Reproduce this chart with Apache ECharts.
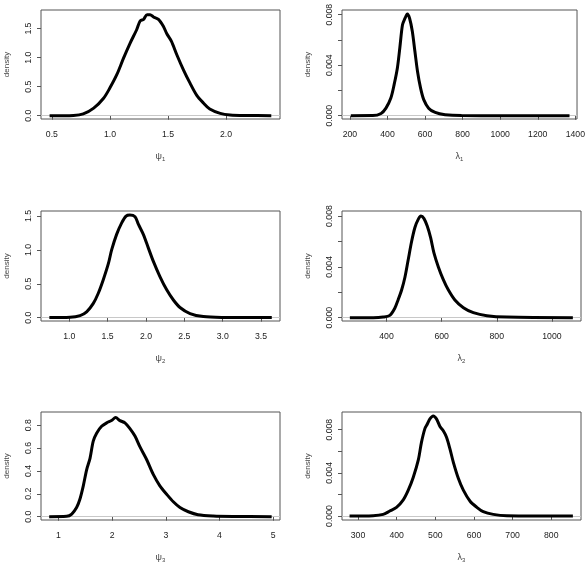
<!DOCTYPE html>
<html>
<head>
<meta charset="utf-8">
<script src="https://cdn.jsdelivr.net/npm/echarts@6/dist/echarts.min.js"></script>
<style>html,body{margin:0;padding:0;background:#fff}#c{width:588px;height:564px}</style>
</head>
<body>
<div id="c"></div>
<script>
// ---- data ----
const psi1X = [0.48,0.686,0.77,0.86,0.945,1.0,1.06,1.117,1.174,1.23,1.26,1.29,1.32,1.346,1.375,1.418,1.46,1.49,1.53,1.576,1.633,1.69,1.748,1.805,1.86,1.95,2.035,2.18,2.39];
const psi1Y = [0,0.005,0.03,0.13,0.30,0.48,0.71,0.99,1.25,1.48,1.63,1.66,1.74,1.74,1.70,1.66,1.54,1.41,1.28,1.05,0.79,0.56,0.35,0.22,0.115,0.04,0.012,0.003,0];

const lam1X = [205,322,366,392,418,436,453,466,480,493,506,518,532,546,560,576,593,619,654,707,794,1000,1369];
const lam1Y = [0,0.00001,0.00018,0.0006,0.0014,0.0025,0.0038,0.0054,0.0072,0.0077,0.00805,0.0077,0.0067,0.0051,0.0035,0.0022,0.00127,0.0006,0.00026,0.00008,0.00001,0,0];

const psi2X = [0.74,1.01,1.14,1.226,1.313,1.378,1.443,1.51,1.552,1.617,1.683,1.74,1.79,1.857,1.9,1.965,2.03,2.096,2.18,2.27,2.357,2.443,2.574,2.748,3.01,3.64];
const psi2Y = [0,0.005,0.03,0.085,0.21,0.36,0.56,0.80,1.0,1.23,1.40,1.50,1.515,1.49,1.38,1.23,1.03,0.83,0.61,0.41,0.26,0.15,0.06,0.015,0.003,0];

const lam2X = [267,352,388,412,430,442,455,467,479,491,503,515,525,536,548,560,572,588,606,624,648,679,715,764,836,1076];
const lam2Y = [0,0,0.00005,0.00018,0.00074,0.0014,0.0022,0.0032,0.0046,0.0060,0.0071,0.00774,0.0080,0.0078,0.0072,0.0063,0.0051,0.0040,0.0030,0.0022,0.0014,0.00079,0.0004,0.00016,0.00005,0];

const psi3X = [0.83,1.155,1.25,1.34,1.40,1.465,1.527,1.59,1.65,1.713,1.806,1.9,1.99,2.067,2.147,2.24,2.333,2.426,2.52,2.643,2.767,2.89,3.016,3.14,3.264,3.42,3.6,3.88,4.26,4.97];
const psi3Y = [0,0.003,0.023,0.08,0.15,0.27,0.41,0.51,0.66,0.73,0.79,0.82,0.84,0.866,0.84,0.82,0.77,0.705,0.61,0.50,0.37,0.27,0.196,0.13,0.08,0.043,0.017,0.006,0.002,0];

const lam3X = [278,339,365,382,399.5,417,430,443,456,464,473,479,486,494.6,503,512,520.6,529,538,546.5,559.5,572.5,590,607,624,650,685,856];
const lam3Y = [0,0.00003,0.00015,0.00046,0.0008,0.0015,0.0024,0.0036,0.0052,0.0068,0.0081,0.0085,0.009,0.00928,0.009,0.0083,0.0079,0.0073,0.0062,0.0050,0.0035,0.0024,0.00137,0.00082,0.0004,0.00015,0.00003,0];

// tick values
const psi1XTicks = [0.5,1.0,1.5,2.0];
const psi1YTicks = [0,0.5,1.0,1.5];
const lam1XTicks = [200,400,600,800,1000,1200,1400];
const lamYTicks = [0,0.002,0.004,0.006,0.008];
const lamYLabels = [0,0.004,0.008];
const psi2XTicks = [1.0,1.5,2.0,2.5,3.0,3.5];
const psi2YTicks = [0,0.5,1.0,1.5];
const lam2XTicks = [400,600,800,1000];
const psi3XTicks = [1,2,3,4,5];
const psi3YTicks = [0,0.2,0.4,0.6,0.8];
const lam3XTicks = [300,400,500,600,700,800];

const names = ['ψ','λ','ψ','λ','ψ','λ'];
const subs = ['1','1','2','2','3','3'];

// ---- layout ----
const FONT = 'Liberation Sans, Arial, sans-serif';
const TXT = '#222';
const panels = [
  {x:psi1X,y:psi1Y,xr:[0.406,2.465],yr:[-0.057,1.82],xt:psi1XTicks,xl:psi1XTicks,yt:psi1YTicks,yl:psi1YTicks,xf:1,yf:1,g:{left:41,top:10,width:239,height:109}},
  {x:lam1X,y:lam1Y,xr:[158,1409],yr:[-0.00026,0.00837],xt:lam1XTicks,xl:lam1XTicks,yt:lamYTicks,yl:lamYLabels,xf:0,yf:3,g:{left:342,top:10,width:239,height:109}},
  {x:psi2X,y:psi2Y,xr:[0.631,3.747],yr:[-0.05,1.575],xt:psi2XTicks,xl:psi2XTicks,yt:psi2YTicks,yl:psi2YTicks,xf:1,yf:1,g:{left:41,top:211,width:239,height:110}},
  {x:lam2X,y:lam2Y,xr:[238.5,1105.5],yr:[-0.00026,0.0084],xt:lam2XTicks,xl:lam2XTicks,yt:lamYTicks,yl:lamYLabels,xf:0,yf:3,g:{left:342,top:211,width:239,height:110}},
  {x:psi3X,y:psi3Y,xr:[0.678,5.125],yr:[-0.029,0.915],xt:psi3XTicks,xl:psi3XTicks,yt:psi3YTicks,yl:psi3YTicks,xf:0,yf:1,g:{left:41,top:412,width:239,height:110}},
  {x:lam3X,y:lam3Y,xr:[258.5,877],yr:[-0.00037,0.00964],xt:lam3XTicks,xl:lam3XTicks,yt:lamYTicks,yl:lamYLabels,xf:0,yf:3,g:{left:342,top:412,width:239,height:110}}
];

const grid=[], xAxis=[], yAxis=[], series=[];
panels.forEach((p,i)=>{
  grid.push(Object.assign({show:true,borderColor:'#555',borderWidth:1,backgroundColor:'transparent'},p.g));
  xAxis.push({
    type:'value',gridIndex:i,min:p.xr[0],max:p.xr[1],
    axisLine:{show:false},splitLine:{show:false},
    axisTick:{show:true,length:4,customValues:p.xt,lineStyle:{color:'#555'}},
    axisLabel:{customValues:p.xl,margin:11,fontSize:8.7,color:TXT,fontFamily:FONT,formatter:v=>Number(v).toFixed(p.xf)},
    name:'{a|'+names[i]+'}{b|'+subs[i]+'}',nameLocation:'middle',nameGap:33,
    nameTextStyle:{rich:{a:{fontSize:9,color:'#444',fontFamily:FONT},b:{fontSize:6,color:'#444',fontFamily:FONT,padding:[4,0,0,0]}}}
  });
  yAxis.push({
    type:'value',gridIndex:i,min:p.yr[0],max:p.yr[1],
    axisLine:{show:false},splitLine:{show:false},
    axisTick:{show:true,length:4,customValues:p.yt,lineStyle:{color:'#555'}},
    axisLabel:{customValues:p.yl,rotate:90,margin:8,fontSize:8.7,color:TXT,fontFamily:FONT,formatter:v=>Number(v).toFixed(p.yf)},
    name:'density',nameLocation:'middle',nameGap:30,
    nameTextStyle:{fontSize:8,color:'#444',fontFamily:FONT}
  });
  series.push({
    type:'line',xAxisIndex:i,yAxisIndex:i,
    data:p.x.map((v,k)=>[v,p.y[k]]),
    showSymbol:false,smooth:0.3,
    lineStyle:{color:'#000',width:3},
    z:3,
    markLine:{silent:true,symbol:'none',label:{show:false},lineStyle:{color:'#c8c8c8',type:'solid',width:1},data:[{yAxis:0}],z:1}
  });
});

const chart = echarts.init(document.getElementById('c'),null,{renderer:'canvas'});
chart.setOption({animation:false,backgroundColor:'#fff',grid,xAxis,yAxis,series});
</script>
</body>
</html>
